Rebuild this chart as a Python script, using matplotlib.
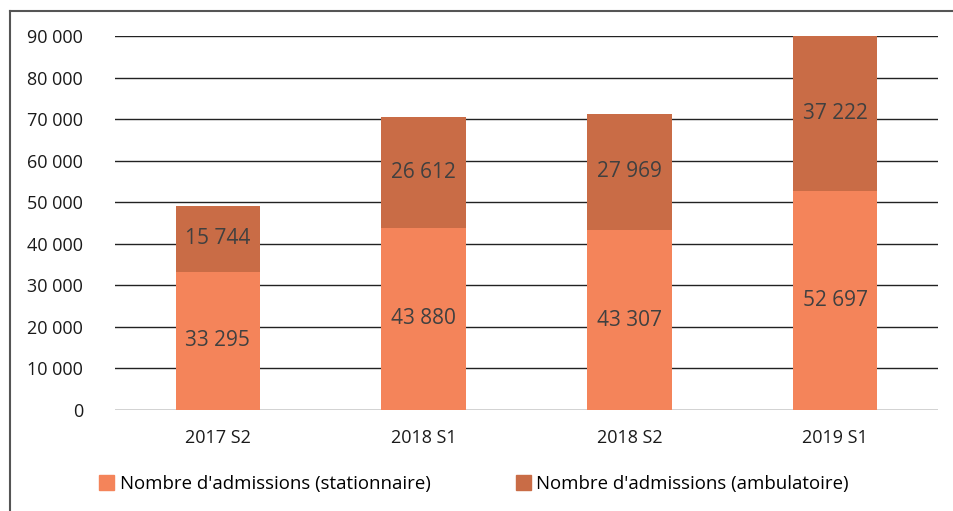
import matplotlib
matplotlib.use("Agg")
import matplotlib.pyplot as plt
from matplotlib.lines import Line2D
from matplotlib.patches import Patch

plt.rcParams['font.family'] = ['Open Sans', 'DejaVu Sans']

categories = ["2017 S2", "2018 S1", "2018 S2", "2019 S1"]
stationnaire = [33295, 43880, 43307, 52697]
ambulatoire = [15744, 26612, 27969, 37222]
yticks = [0, 10000, 20000, 30000, 40000, 50000, 60000, 70000, 80000, 90000]
series_labels = ["Nombre d'admissions (stationnaire)", "Nombre d'admissions (ambulatoire)"]
colors = ["#F4845A", "#C96C46"]

def fmt(v):
    return f"{v:,}".replace(",", " ")

fig = plt.figure(figsize=(9.54, 5.11), dpi=100)
ax = fig.add_axes([115/954, (511-410)/511, (938-115)/954, (410-36)/511])

x = list(range(len(categories)))
w = 0.41
ax.bar(x, stationnaire, w, color=colors[0], zorder=3)
ax.bar(x, ambulatoire, w, bottom=stationnaire, color=colors[1], zorder=3)

for i in x:
    ax.text(i, stationnaire[i] / 2, fmt(stationnaire[i]), ha='center', va='center',
            fontsize=15, color='#404040', zorder=4)
    ax.text(i, stationnaire[i] + ambulatoire[i] / 2, fmt(ambulatoire[i]), ha='center', va='center',
            fontsize=15, color='#404040', zorder=4)

ax.set_xlim(-0.5, len(categories) - 0.5)
ax.set_ylim(0, 90000)
ax.set_yticks(yticks)
ax.set_yticklabels([fmt(v) for v in yticks], fontsize=13, color='#1a1a1a')
ax.set_xticks(x)
ax.set_xticklabels(categories, fontsize=13, color='#1a1a1a')
ax.tick_params(axis='both', length=0)
ax.tick_params(axis='y', pad=23)
ax.tick_params(axis='x', pad=14)
ax.grid(axis='y', color='#222222', linewidth=1.0, zorder=1)
for s in ax.spines.values():
    s.set_visible(False)

# outer frame
fig.add_artist(Line2D([10/954, 10/954], [0, 1 - 11/511], transform=fig.transFigure,
                      color='#555555', linewidth=1.5))
fig.add_artist(Line2D([10/954, 1], [1 - 11/511, 1 - 11/511], transform=fig.transFigure,
                      color='#555555', linewidth=1.5))

handles = [Patch(color=colors[0]), Patch(color=colors[1])]
fig.legend(handles, series_labels, loc='center', bbox_to_anchor=(474/954, 1 - 484/511),
           ncol=2, frameon=False, fontsize=13.4, handlelength=0.8, handleheight=0.8,
           handletextpad=0.3, columnspacing=4.6)

fig.savefig("out.png", dpi=100)
